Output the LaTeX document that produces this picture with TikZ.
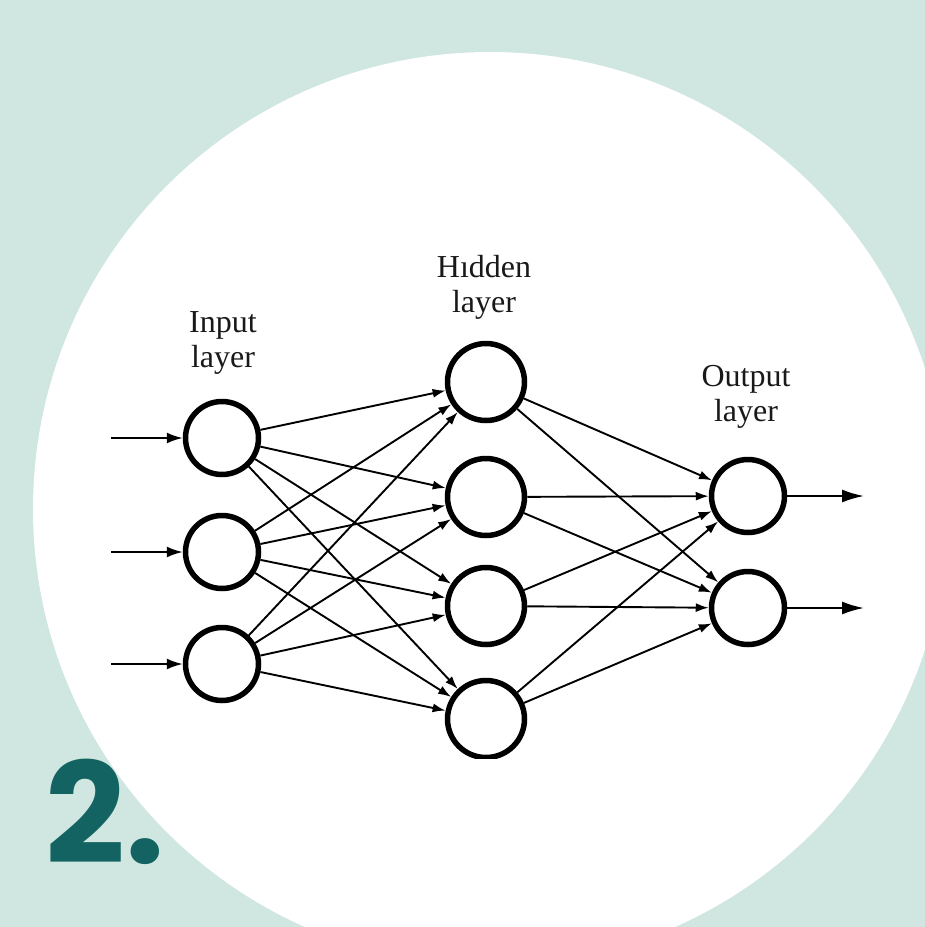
\documentclass[tikz,border=0pt]{standalone}
\usepackage{fontspec}
\setmainfont{Liberation Serif}
\newfontfamily\numfont{Poppins}
\usetikzlibrary{arrows.meta}
\definecolor{bgteal}{RGB}{208,230,225}
\definecolor{darkteal}{RGB}{18,99,97}
\begin{document}
\begin{tikzpicture}[x=1pt,y=-1pt,
  neuron/.style={circle,draw=black,line width=5.5pt,minimum size=73pt,inner sep=0pt,fill=white},
  hneuron/.style={neuron,minimum size=77pt},
  conn/.style={line width=1.9pt,-{Latex[length=13pt,width=9pt]}},
  inarrow/.style={line width=2pt,-{Latex[length=16pt,width=11pt]}},
  outarrow/.style={line width=2pt,-{Latex[length=22pt,width=13pt]}},
  lbl/.style={font=\fontsize{32}{35}\selectfont,align=center,text=black!90,inner sep=0pt}]
\useasboundingbox (0,0) rectangle (925,927);
\fill[bgteal] (0,0) rectangle (925,927);
\begin{scope}
  \clip (0,0) rectangle (925,927);
  \fill[white] (490,509) circle[radius=457];
\end{scope}
\begin{scope}
  \clip (0,0) rectangle (925,758);
  % input layer
  \node[neuron] (i1) at (222,438) {};
  \node[neuron] (i2) at (222,552) {};
  \node[neuron] (i3) at (222,664) {};
  % hidden layer
  \node[hneuron] (h1) at (486,382) {};
  \node[hneuron] (h2) at (486,497) {};
  \node[hneuron] (h3) at (486,606) {};
  \node[hneuron] (h4) at (486,719) {};
  % output layer
  \node[neuron] (o1) at (748,496) {};
  \node[neuron] (o2) at (748,608) {};
  % free ends
  \coordinate (in1) at (111,438);
  \coordinate (in2) at (111,552);
  \coordinate (in3) at (111,664);
  \coordinate (out1) at (864,496);
  \coordinate (out2) at (864,608);
  \foreach \k in {1,2,3} {\draw[inarrow] (in\k) -- (i\k);}
  \foreach \a in {1,2,3} {\foreach \b in {1,2,3,4} {\draw[conn] (i\a) -- (h\b);}}
  \foreach \a in {1,2,3,4} {\foreach \b in {1,2} {\draw[conn] (h\a) -- (o\b);}}
  \foreach \k in {1,2} {\draw[outarrow] (o\k) -- (out\k);}
\end{scope}
% labels
\node[lbl] (linput) at (223,343) {Input\\layer};
\node[lbl] (lhidden) at (484,287) {Hıdden\\layer};
\node[lbl] (loutput) at (746,397) {Output\\layer};
% number
\node[anchor=base west,inner sep=0pt,text=darkteal,font=\numfont\bfseries\fontsize{140}{142}\selectfont] (num) at (45,863) {2.};
\end{tikzpicture}
\end{document}
